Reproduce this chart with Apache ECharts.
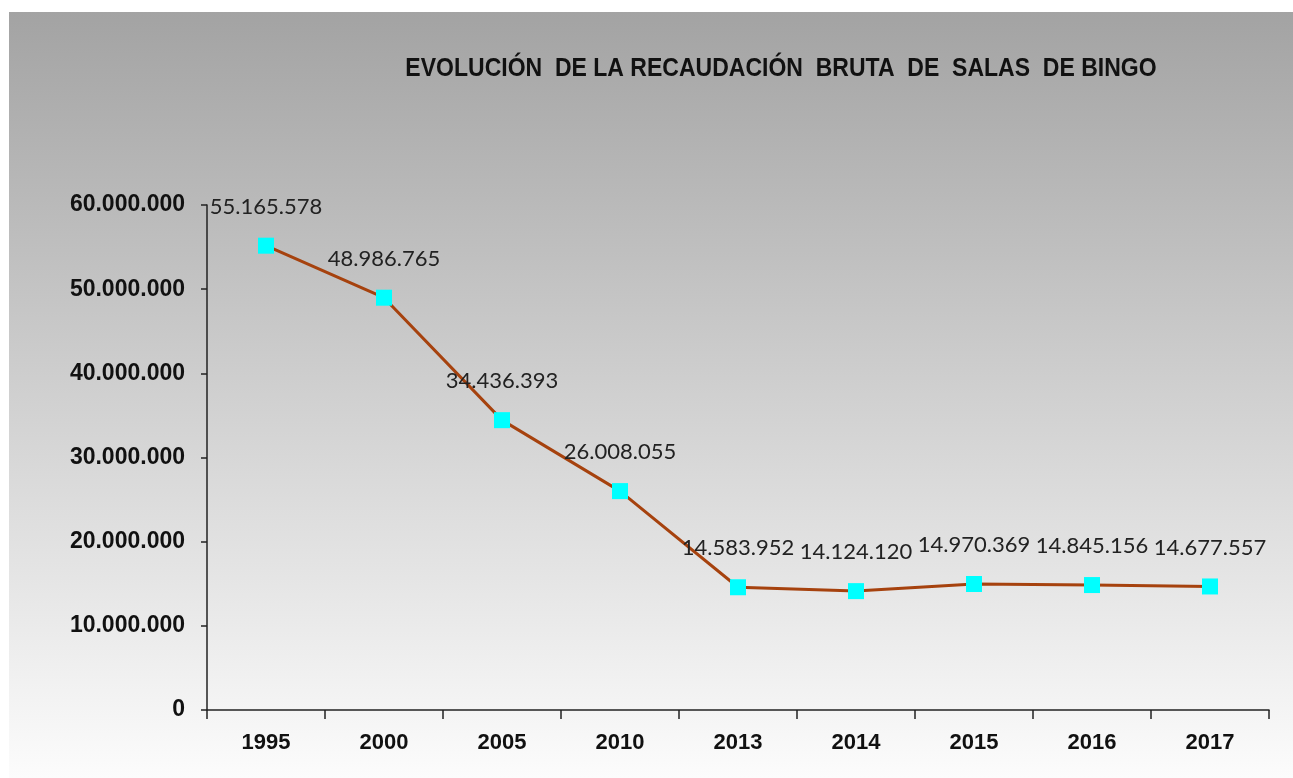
<!DOCTYPE html>
<html><head><meta charset="utf-8">
<script src="https://cdn.jsdelivr.net/npm/echarts@6/dist/echarts.min.js"></script>
<style>html,body{margin:0;padding:0;background:#fff}#c{width:1293px;height:778px}</style>
</head><body><div id="c"></div>
<script>
const categories = ['1995','2000','2005','2010','2013','2014','2015','2016','2017'];
const values = [55165578, 48986765, 34436393, 26008055, 14583952, 14124120, 14970369, 14845156, 14677557];
const titleText = 'EVOLUCIÓN  DE LA RECAUDACIÓN  BRUTA  DE  SALAS  DE BINGO';

function fmt(v){ return String(Math.round(v)).replace(/\B(?=(\d{3})+(?!\d))/g,'.'); }

const chart = echarts.init(document.getElementById('c'), null, {renderer:'canvas'});
chart.setOption({
  backgroundColor:'#ffffff',
  animation:false,
  graphic:[{
    type:'rect', left:9, top:12, z:-10, silent:true,
    shape:{width:1284, height:766},
    style:{fill:{type:'linear',x:0,y:0,x2:0,y2:1,colorStops:[
      {offset:0,color:'#a3a3a3'},{offset:0.5,color:'#d0d0d0'},{offset:1,color:'#fcfcfc'}]}}
  },{
    type:'text', x:781, y:69, scaleX:0.885, silent:true, z:10,
    style:{text:titleText, align:'center', verticalAlign:'middle',
      font:'bold 26px "Liberation Sans", Arial, sans-serif', fill:'#111'}
  }],
  grid:{left:207, right:24, top:205, bottom:68, containLabel:false},
  xAxis:{
    type:'category', data:categories, boundaryGap:true,
    axisLine:{lineStyle:{color:'#222',width:1.5}},
    axisTick:{show:true, inside:false, length:9, lineStyle:{color:'#222',width:1.5}},
    axisLabel:{margin:22, fontFamily:'"Liberation Sans",Arial', fontWeight:'bold', fontSize:22, color:'#111'},
    splitLine:{show:false}
  },
  yAxis:{
    type:'value', min:0, max:60000000, interval:10000000,
    axisLine:{show:true, lineStyle:{color:'#222',width:1.5}},
    axisTick:{show:true, length:6, lineStyle:{color:'#222',width:1.5}},
    axisLabel:{margin:22, formatter:fmt, fontFamily:'"Liberation Sans",Arial', fontWeight:'bold', fontSize:23, color:'#111'},
    splitLine:{show:false}
  },
  series:[{
    type:'line', data:values,
    symbol:'rect', symbolSize:16,
    itemStyle:{color:'#00ffff'},
    lineStyle:{color:'#a6420e', width:3},
    label:{show:true, position:'top', distance:20, formatter:p=>fmt(p.value),
      fontFamily:'Lato,"Open Sans",sans-serif', fontSize:22, color:'#222'}
  }]
});
</script></body></html>
